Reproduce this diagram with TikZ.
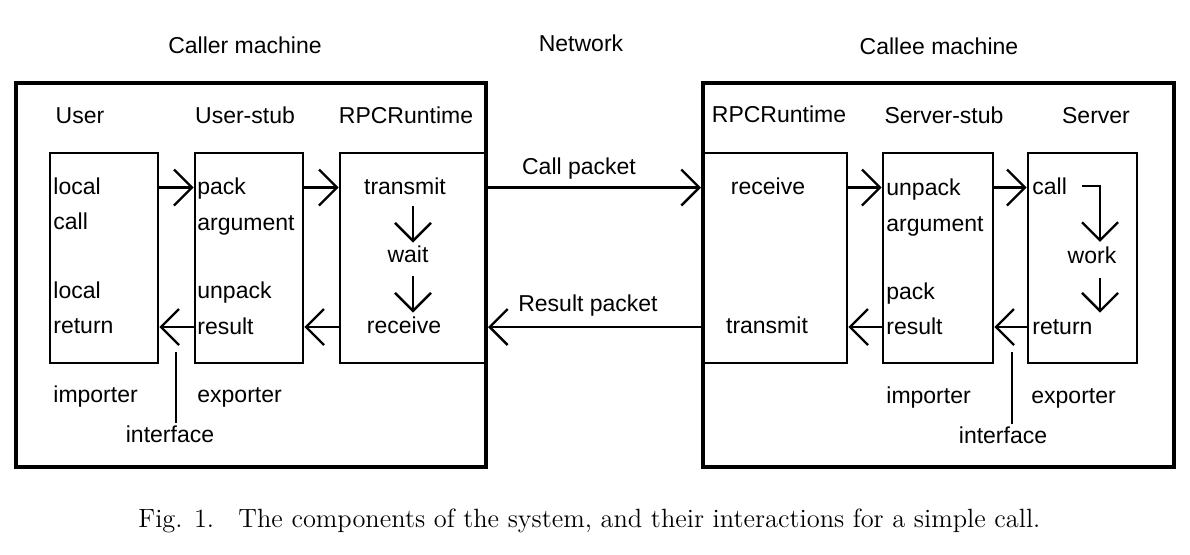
\documentclass[tikz,border=0pt]{standalone}
\usepackage{fontspec}
\newfontfamily\diagfont{Liberation Sans}
\usetikzlibrary{arrows.meta,fit}

\tikzset{
  machine/.style={draw,line width=2pt,inner sep=0pt},
  part/.style={draw,line width=1.3pt,inner sep=0pt},
  lbl/.style={anchor=base,inner sep=0pt},
  lblw/.style={anchor=base west,inner sep=0pt},
  barb/.style={line width=1.2pt,-{Straight Barb[length=9pt,width=18pt]}},
  plain/.style={line width=1.2pt},
}

\begin{document}
\begin{tikzpicture}[x=0.5pt,y=-0.5pt,font=\diagfont\fontsize{11.5}{14}\selectfont]
\useasboundingbox (0,0) rectangle (1190,554);

% rows of the horizontal arrows
\coordinate (row1) at (0,187.5);
\coordinate (row2) at (0,327);
\coordinate (ux) at (413,0);
\coordinate (sx) at (1100,0);

% machines
\node[machine,fit={(16,83) (486,467)}] (caller) {};
\node[machine,fit={(703,83) (1174,467)}] (callee) {};

% parts
\node[part,fit={(50,153) (158,363)}] (user) {};
\node[part,fit={(195,153) (303,363)}] (ustub) {};
\node[part,fit={(340,153) (486,363)}] (urpc) {};
\node[part,fit={(703,153) (847,363)}] (srpc) {};
\node[part,fit={(883,153) (993,363)}] (sstub) {};
\node[part,fit={(1028,153) (1137,363)}] (server) {};

% titles
\node[lbl] (tcaller) at (245,53) {Caller machine};
\node[lbl] (tnet) at (581,51) {Network};
\node[lbl] (tcallee) at (939,54) {Callee machine};

\node[lbl] (huser) at (80,123) {User};
\node[lbl] (hustub) at (245,123) {User-stub};
\node[lbl] (hurpc) at (406,123) {RPCRuntime};
\node[lbl] (hsrpc) at (779,122) {RPCRuntime};
\node[lbl] (hsstub) at (944,123) {Server-stub};
\node[lbl] (hserver) at (1096,123) {Server};

% caller side
\node[lblw] (ulocal) at (53,194) {local};
\node[lblw] (ucall) at (53,229) {call};
\node[lblw] (ulocalb) at (53,298) {local};
\node[lblw] (ureturn) at (53,333) {return};

\node[lblw] (upack) at (197,194) {pack};
\node[lblw] (uarg) at (197,230) {argument};
\node[lblw] (uunpack) at (197,298) {unpack};
\node[lblw] (uresult) at (197,334) {result};

\node[lbl] (utransmit) at (405,194) {transmit};
\node[lbl] (uwait) at (408,262) {wait};
\node[lbl] (ureceive) at (404,333) {receive};

\node[lblw] (uimporter) at (53,402) {importer};
\node[lblw] (uexporter) at (197,402) {exporter};
\node[lbl] (uiface) at (170,442) {interface};

% network
\node[lbl] (callpk) at (579,174) {Call packet};
\node[lbl] (respk) at (588,311) {Result packet};

% callee side
\node[lbl] (sreceive) at (768,194) {receive};
\node[lbl] (stransmit) at (767,333) {transmit};

\node[lblw] (sunpack) at (886,195) {unpack};
\node[lblw] (sarg) at (886,231) {argument};
\node[lblw] (spack) at (886,299) {pack};
\node[lblw] (sresult) at (886,334) {result};

\node[lblw] (scall) at (1032,194) {call};
\node[lbl] (swork) at (1092,263) {work};
\node[lblw] (sreturn) at (1032,334) {return};

\node[lblw] (simporter) at (886,403) {importer};
\node[lblw] (sexporter) at (1031,403) {exporter};
\node[lbl] (siface) at (1003,443) {interface};

% call direction
\draw[barb] (user.east |- row1) -- (ustub.west |- row1);
\draw[barb] (ustub.east |- row1) -- (urpc.west |- row1);
\draw[barb] (caller.east |- row1) -- (callee.west |- row1);
\draw[barb] (srpc.east |- row1) -- (sstub.west |- row1);
\draw[barb] (sstub.east |- row1) -- (server.west |- row1);

% return direction
\draw[barb] (server.west |- row2) -- (sstub.east |- row2);
\draw[barb] (sstub.west |- row2) -- (srpc.east |- row2);
\draw[barb] (callee.west |- row2) -- (caller.east |- row2);
\draw[barb] (urpc.west |- row2) -- (ustub.east |- row2);
\draw[barb] (ustub.west |- row2) -- (user.east |- row2);

% steps inside
\draw[barb] (utransmit.south -| ux) ++(0,11) -- ++(0,37);
\draw[barb] (uwait.south -| ux) ++(0,13) -- ++(0,37);
\draw[barb] ([xshift=7.5pt]scall.east) -| ([yshift=2pt]swork.north -| sx);
\draw[barb] (swork.south -| sx) ++(0,14) -- ++(0,35);

% interfaces
\draw[plain] ([xshift=3pt,yshift=1pt]uiface.north) -- ++(0,-71);
\draw[plain] ([xshift=4.5pt,yshift=0.75pt]siface.north) -- ++(0,-72);

% caption
\node[lblw,font=\rmfamily\fontsize{13.2}{15}\selectfont] (capfig) at (138,527) {Fig. 1.};
\node[lblw,font=\rmfamily\fontsize{13.2}{15}\selectfont] (captext) at (238,527) {The components of the system, and their interactions for a simple call.};
\end{tikzpicture}
\end{document}
